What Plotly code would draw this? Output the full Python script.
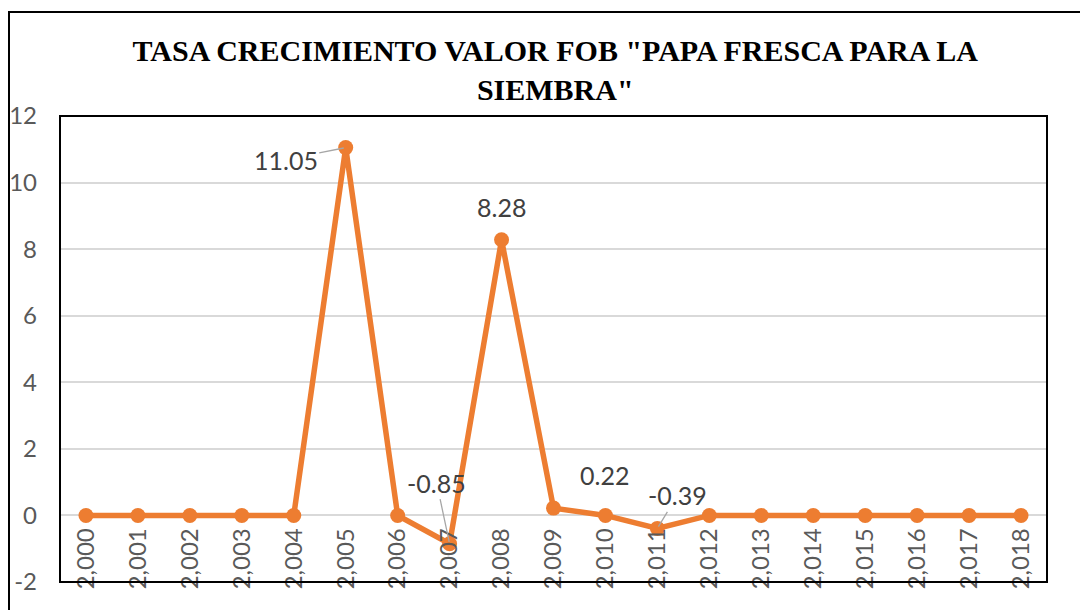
import plotly.graph_objects as go

years = [2000, 2001, 2002, 2003, 2004, 2005, 2006, 2007, 2008, 2009,
         2010, 2011, 2012, 2013, 2014, 2015, 2016, 2017, 2018]
tick_labels = ["2,000", "2,001", "2,002", "2,003", "2,004", "2,005", "2,006", "2,007", "2,008", "2,009",
               "2,010", "2,011", "2,012", "2,013", "2,014", "2,015", "2,016", "2,017", "2,018"]
values = [0, 0, 0, 0, 0, 11.05, 0, -0.85, 8.28, 0.22,
          0, -0.39, 0, 0, 0, 0, 0, 0, 0]
y_ticks = [-2, 0, 2, 4, 6, 8, 10, 12]
y_tick_text = ["-2", "0", "2", "4", "6", "8", "10", "12"]
label_years = ["2,005", "2,007", "2,008", "2,009", "2,011"]
label_values = [11.05, -0.85, 8.28, 0.22, -0.39]
label_texts = ["11.05", "-0.85", "8.28", "0.22", "-0.39"]

ORANGE = "#ED7D31"
W, H = 1088, 610
# page body has an 8px margin, so figure coordinates are shifted by 8px
ML, MR, MT, MB = 52, 49, 108, 36
pw = W - ML - MR
ph = H - MT - MB

fig = go.Figure()
fig.add_trace(go.Scatter(
    x=tick_labels, y=values, mode="lines+markers",
    line=dict(color=ORANGE, width=5.5),
    marker=dict(color=ORANGE, size=15),
    hoverinfo="x+y", showlegend=False,
))

offsets = {
    "11.05": dict(showarrow=True, ax=-60, ay=12),
    "-0.85": dict(showarrow=True, ax=-13, ay=-61),
    "8.28": dict(showarrow=False, yshift=33),
    "0.22": dict(showarrow=False, xshift=51, yshift=33),
    "-0.39": dict(showarrow=True, ax=20, ay=-33),
}
for xv, yv, t in zip(label_years, label_values, label_texts):
    o = offsets[t]
    fig.add_annotation(x=xv, y=yv, xref="x", yref="y", text=t,
                       font=dict(family="Lato", size=25, color="#404040"),
                       arrowhead=0, arrowwidth=1.3, arrowcolor="#A6A6A6",
                       standoff=2, **o)

fig.add_shape(type="rect", xref="paper", yref="paper", x0=0, x1=1, y0=0, y1=1,
              line=dict(color="black", width=2), layer="above")
fig.add_shape(type="rect", xref="paper", yref="paper",
              x0=(1 - ML) / pw, x1=(W + 10 - ML) / pw,
              y0=(H - MB - (H + 10)) / ph, y1=(H - MB - 4) / ph,
              line=dict(color="black", width=2), layer="above")

fig.update_layout(
    width=W, height=H,
    margin=dict(l=ML, r=MR, t=MT, b=MB, autoexpand=False),
    paper_bgcolor="white", plot_bgcolor="white",
    title=dict(
        text="TASA CRECIMIENTO VALOR FOB \"PAPA FRESCA PARA LA<br>SIEMBRA\"",
        font=dict(family="Liberation Serif", size=30, color="black", weight="bold"),
        x=0.503, xanchor="center", y=1 - 53 / H, yanchor="middle", automargin=False,
    ),
    xaxis=dict(
        type="category", categoryorder="array", categoryarray=tick_labels,
        range=[-0.5, 18.5], showgrid=False, showline=False, zeroline=False,
        anchor="free", position=2 / 14, tickangle=-90, automargin=False,
        tickfont=dict(family="Lato", size=24, color="#595959"),
        ticks="", ticklabelstandoff=7,
    ),
    yaxis=dict(
        range=[-2, 12], tickvals=y_ticks, ticktext=y_tick_text,
        showgrid=True, gridcolor="#D9D9D9", gridwidth=1.5,
        zeroline=True, zerolinecolor="#D9D9D9", zerolinewidth=1.5, showline=False,
        tickfont=dict(family="Lato", size=24, color="#595959"), automargin=False,
        ticks="", ticklabelstandoff=22,
    ),
)

fig.write_html("out.html")
